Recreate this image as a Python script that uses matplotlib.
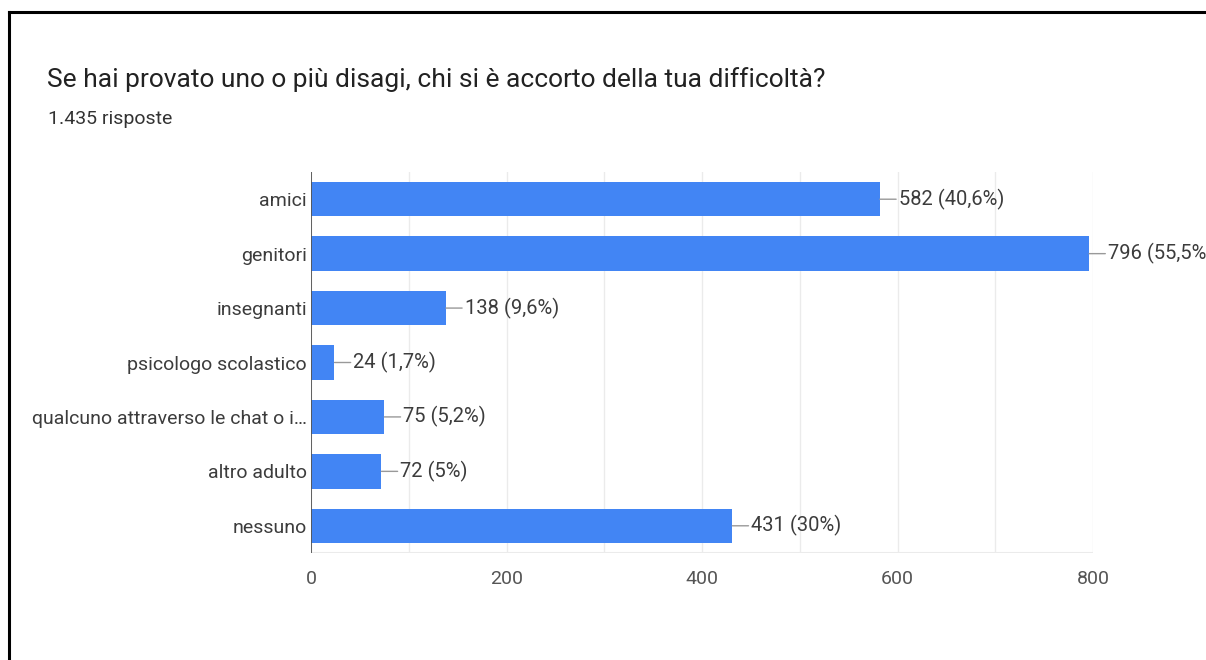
import matplotlib.pyplot as plt
from matplotlib.lines import Line2D

plt.rcParams['font.family'] = ['Roboto', 'DejaVu Sans']

# dati del sondaggio
categorie = [
    "amici",
    "genitori",
    "insegnanti",
    "psicologo scolastico",
    "qualcuno attraverso le chat o i…",
    "altro adulto",
    "nessuno",
]
risposte = [582, 796, 138, 24, 75, 72, 431]
percentuali = ["40,6%", "55,5%", "9,6%", "1,7%", "5,2%", "5%", "30%"]
x_ticks = [0, 200, 400, 600, 800]

titolo = "Se hai provato uno o più disagi, chi si è accorto della tua difficoltà?"
sottotitolo = "1.435 risposte"

BLU = "#4285f4"
TESTO = "#3c3c3c"

fig = plt.figure(figsize=(12.06, 6.6), dpi=100, facecolor="white")

# cornice nera (solo bordo superiore e sinistro)
fig.add_artist(Line2D([9 / 1206, 9 / 1206], [0, 1 - 12 / 660], transform=fig.transFigure,
                      color="black", lw=2.2))
fig.add_artist(Line2D([9 / 1206, 1], [1 - 12 / 660, 1 - 12 / 660], transform=fig.transFigure,
                      color="black", lw=2.2))

fig.text(47 / 1206, 1 - 80 / 660, titolo, fontsize=19, color="#222222", va="center", ha="left")
fig.text(48 / 1206, 1 - 119 / 660, sottotitolo, fontsize=14, color="#333333", va="center", ha="left")

ax = fig.add_axes([311 / 1206, 1 - 553 / 660, (1093 - 311) / 1206, (553 - 172) / 660])

pos = list(range(len(categorie)))
ax.barh(pos, risposte, height=0.63, color=BLU, zorder=3)

ax.set_ylim(len(categorie) - 0.5, -0.5)
ax.set_xlim(0, 800)

# griglia verticale ogni 100
for v in range(0, 801, 100):
    ax.axvline(v, color="#ebebeb", lw=1, zorder=0)
ax.axvline(0, color="#555555", lw=1.3, zorder=4)
ax.axhline(len(categorie) - 0.5, color="#ebebeb", lw=1.5, zorder=0)

for sp in ax.spines.values():
    sp.set_visible(False)

ax.set_yticks(pos)
ax.set_yticklabels(categorie, fontsize=14, color=TESTO)
ax.set_xticks(x_ticks)
ax.set_xticklabels([str(t) for t in x_ticks], fontsize=14, color="#555555")
ax.tick_params(axis="both", length=0)
ax.tick_params(axis="y", pad=3)
ax.tick_params(axis="x", pad=12)

# etichette con linea di richiamo
for i, (v, p) in enumerate(zip(risposte, percentuali)):
    ax.annotate(f"{v} ({p})", xy=(v, i), xytext=(19, 0), textcoords="offset pixels",
                ha="left", va="center", fontsize=14.5, color=TESTO, annotation_clip=False,
                arrowprops=dict(arrowstyle="-", color="#999999", lw=1, shrinkA=0, shrinkB=0),
                zorder=5)

fig.savefig("out.png", dpi=100, facecolor="white")
